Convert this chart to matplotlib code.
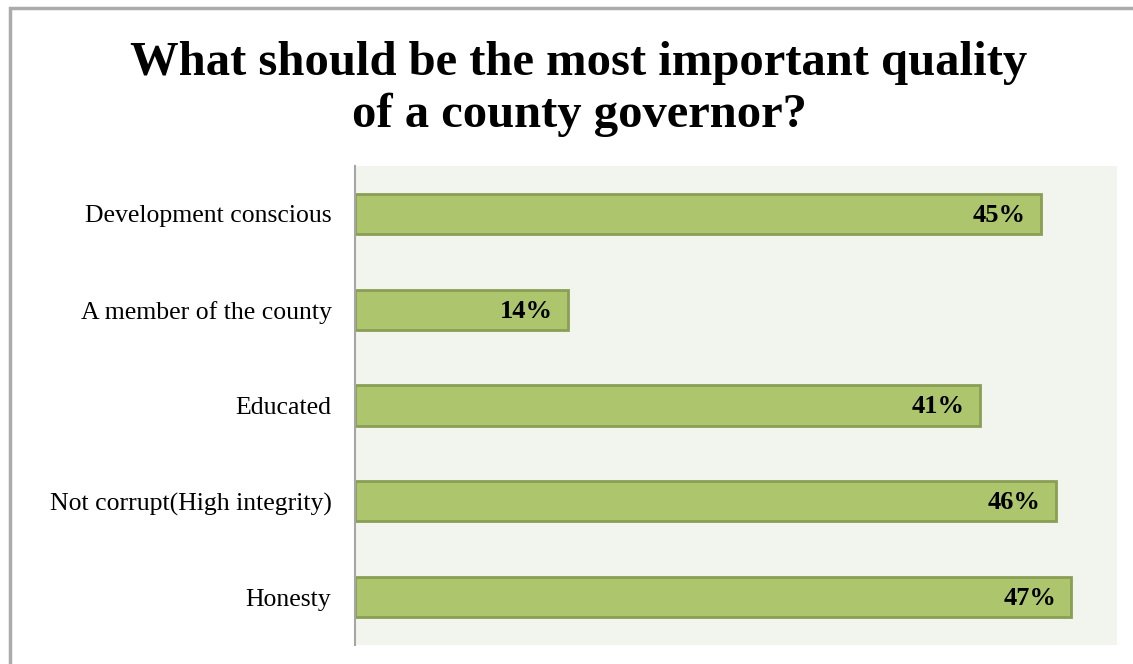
import matplotlib.pyplot as plt
from matplotlib.patches import Rectangle

categories = ["Development conscious", "A member of the county", "Educated",
              "Not corrupt(High integrity)", "Honesty"]
values = [45, 14, 41, 46, 47]

W, H = 1133, 664
fig = plt.figure(figsize=(W / 100, H / 100), dpi=100)
fig.patch.set_facecolor("white")

# outer chart frame
fig.add_artist(Rectangle((10 / W, -0.05), 1.1, (H - 8) / H + 0.05,
                         transform=fig.transFigure, fill=False,
                         edgecolor="#ABABAB", linewidth=2.5))

ax = fig.add_axes([355 / W, (H - 645) / H, (1117 - 355) / W, (645 - 166) / H])
ax.set_facecolor("#F2F4EE")

ypos = list(range(len(categories)))
ax.barh(ypos, values, height=0.42, color="#ADC66E", edgecolor="#8A9E55",
        linewidth=2)
for y, v in zip(ypos, values):
    ax.annotate(f"{v}%", (v, y), xytext=(-11, -1), textcoords="offset points",
                ha="right", va="center", fontsize=19, fontweight="bold",
                family="Liberation Serif", color="black")

ax.set_xlim(0, 50)
ax.set_ylim(len(categories) - 0.5, -0.5)
ax.set_yticks(ypos)
ax.set_yticklabels(categories, family="Liberation Serif", fontsize=18.5)
ax.tick_params(axis="y", length=0, pad=17)
ax.set_xticks([])
for side in ["top", "right", "bottom"]:
    ax.spines[side].set_visible(False)
ax.spines["left"].set_color("#A6A6A6")
ax.spines["left"].set_linewidth(1.5)

fig.text(579 / W, (H - 63) / H, "What should be the most important quality",
         ha="center", va="center", fontsize=35, fontweight="bold",
         family="Liberation Serif")
fig.text(579 / W, (H - 115) / H, "of a county governor?",
         ha="center", va="center", fontsize=35, fontweight="bold",
         family="Liberation Serif")

fig.savefig("out.png", dpi=100)
